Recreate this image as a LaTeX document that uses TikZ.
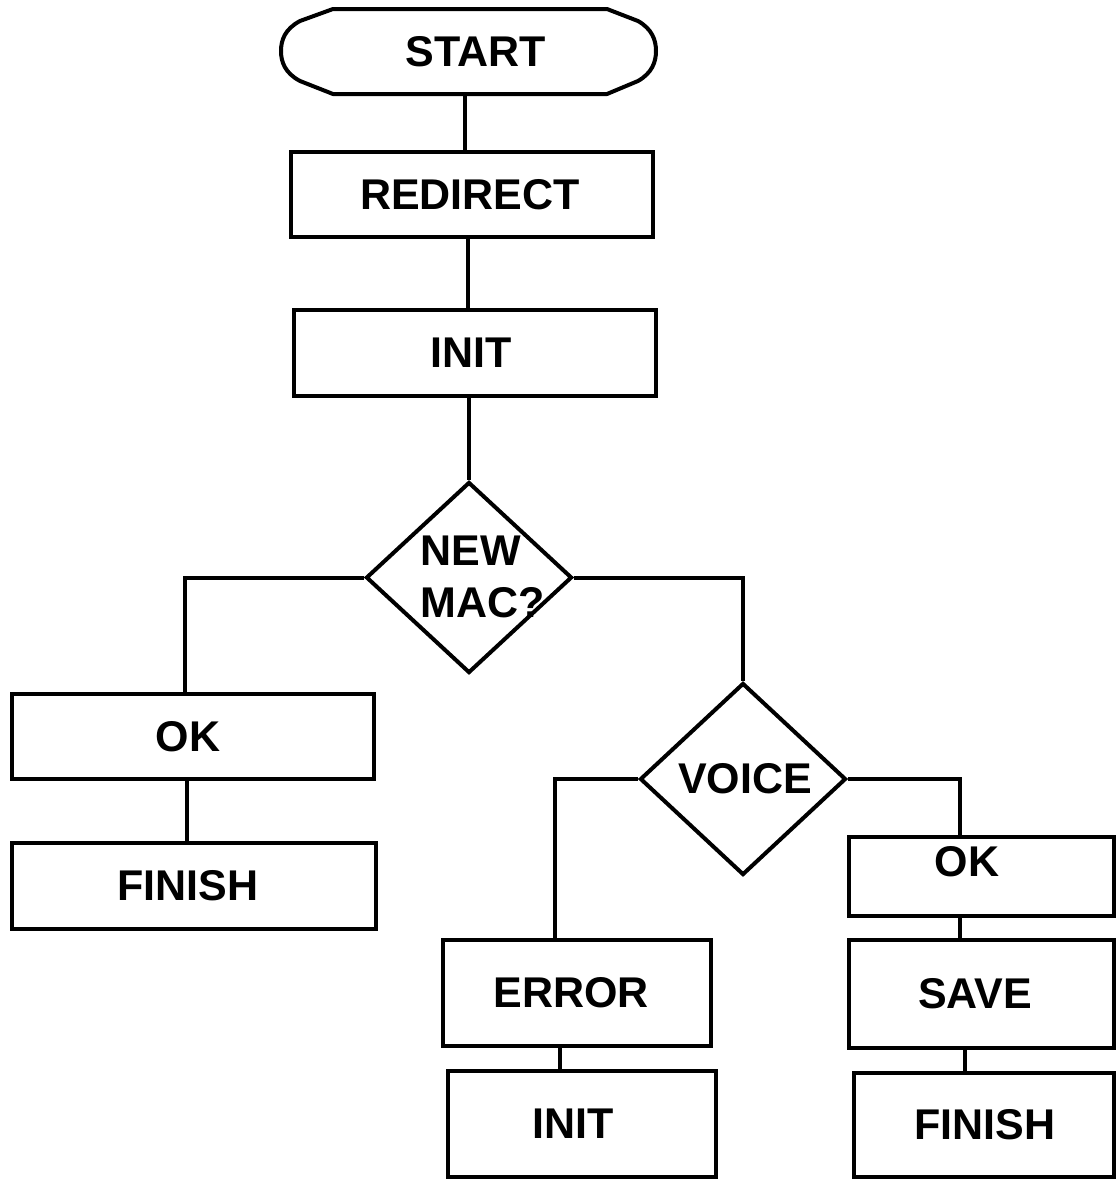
\documentclass[tikz,border=0pt]{standalone}
\usepackage{fontspec}
\setmainfont{Liberation Sans}
\usetikzlibrary{shapes.geometric}
\begin{document}
\begin{tikzpicture}[x=1pt,y=-1pt,
  every node/.style={font=\fontsize{43}{50}\selectfont\bfseries},
  box/.style={draw,line width=4pt,rectangle,inner sep=0pt},
  dec/.style={draw,line width=4pt,diamond,inner sep=0pt},
  conn/.style={line width=4pt}]
\useasboundingbox (0,0) rectangle (1116,1179);
\fill[white] (0,0) rectangle (1116,1179);
% START terminal
\node (start) at (468,51.5) {\hspace*{16pt}START};
\draw[line width=4pt,line join=round] (333,9)--(607,9)--(638,21) .. controls (652,29) and (656,40) .. (656,51) .. controls (656,62) and (652,73) .. (638,81) -- (607,94) -- (333,94) -- (300,81) .. controls (285,73) and (281,62) .. (281,51) .. controls (281,40) and (285,29) .. (300,21) -- cycle;
\node[box,minimum width=362pt,minimum height=85pt] (redirect) at (472,194.5) {\hspace*{-4pt}REDIRECT};
\node[box,minimum width=362pt,minimum height=86pt] (init1) at (475,353) {\hspace*{-8pt}INIT};
\node[dec,minimum width=206pt,minimum height=191pt] (newmac) at (469,577.5) {};
\node[align=left,inner sep=0pt] (newmactext) at (483,577) {NEW\\[2pt]MAC?};
\node[box,minimum width=362pt,minimum height=85pt] (okL) at (193,736.5) {\hspace*{-10pt}OK};
\node[box,minimum width=364pt,minimum height=86pt] (finL) at (194,886) {\hspace*{-12pt}FINISH};
\node[dec,minimum width=206pt,minimum height=192pt] (voice) at (743,779) {\hspace*{4pt}VOICE};
\node[box,minimum width=268pt,minimum height=106pt] (error) at (577,993) {\hspace*{-12pt}ERROR};
\node[box,minimum width=268pt,minimum height=106pt] (init2) at (582,1124) {\hspace*{-18pt}INIT};
\node[box,minimum width=265pt,minimum height=79pt] (okR) at (981,876.5) {\hspace*{-28pt}\raisebox{30pt}{OK}};
\node[box,minimum width=265pt,minimum height=108pt] (save) at (981,994) {\hspace*{-12pt}SAVE};
\node[box,minimum width=260pt,minimum height=104pt] (finR) at (984,1125) {\hspace*{2pt}FINISH};
% connectors
\draw[conn] ([xshift=-3pt]start.south |- 0,94) -- ([xshift=-3pt]start.south |- redirect.north);
\draw[conn] ([xshift=-4pt]redirect.south) -- ([xshift=-4pt]redirect.south |- init1.north);
\draw[conn] (init1.south -| newmac.north) -- (newmac.north);
\draw[conn] (newmac.west) -| ([xshift=-8pt]okL.north);
\draw[conn] (newmac.east) -| (voice.north);
\draw[conn] ([xshift=-6pt]okL.south) -- ([xshift=-6pt]okL.south |- finL.north);
\draw[conn] (voice.west) -| ([xshift=-22pt]error.north);
\draw[conn] (voice.east) -| ([xshift=-21pt]okR.north);
\draw[conn] ([xshift=-21pt]okR.south) -- ([xshift=-21pt]okR.south |- save.north);
\draw[conn] ([xshift=-17pt]error.south) -- ([xshift=-17pt]error.south |- init2.north);
\draw[conn] ([xshift=-16pt]save.south) -- ([xshift=-16pt]save.south |- finR.north);
\end{tikzpicture}
\end{document}
